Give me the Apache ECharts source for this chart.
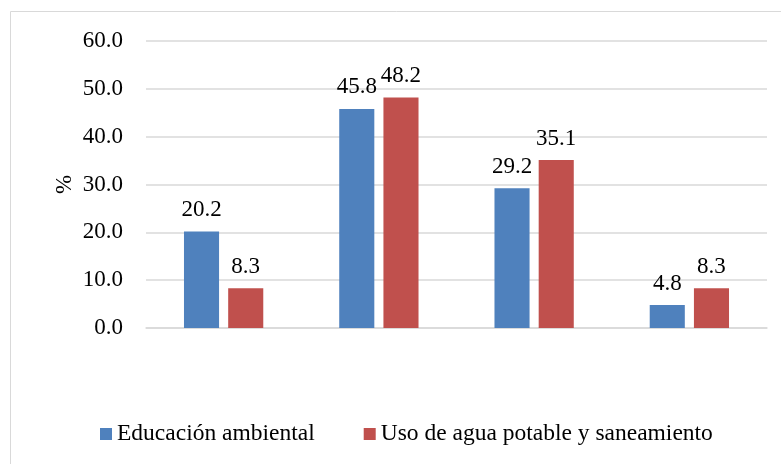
<!DOCTYPE html>
<html>
<head>
<meta charset="utf-8">
<script src="https://cdn.jsdelivr.net/npm/echarts@6/dist/echarts.min.js"></script>
<style>
  html, body { margin: 0; padding: 0; background: #fff; }
  #chart { width: 781px; height: 464px; }
</style>
</head>
<body>
<div id="chart"></div>
<script>
// Four groups, no category captions shown on the axis
const categories = ['', ' ', '  ', '   '];
const educacion = [20.2, 45.8, 29.2, 4.8];
const usoAgua = [8.3, 48.2, 35.1, 8.3];
const seriesNames = ['Educación ambiental', 'Uso de agua potable y saneamiento'];

const font = '"Liberation Serif", "Times New Roman", serif';
const chart = echarts.init(document.getElementById('chart'));

const labelStyle = {
  show: true,
  position: 'top',
  distance: 10,
  fontFamily: font,
  fontSize: 23,
  color: '#000',
  formatter: p => p.value.toFixed(1)
};

chart.setOption({
  animation: false,
  textStyle: { fontFamily: font },
  graphic: [{
    type: 'rect',
    shape: { x: 10.5, y: 11.5, width: 800, height: 500 },
    style: { fill: 'none', stroke: '#d9d9d9', lineWidth: 1 },
    silent: true
  }],
  legend: {
    bottom: 13,
    left: 95,
    itemWidth: 12,
    itemHeight: 12,
    itemGap: 49,
    icon: 'rect',
    textStyle: { fontFamily: font, fontSize: 23.5, color: '#000' },
    data: seriesNames
  },
  grid: { left: 146, right: 14, top: 41, bottom: 136, containLabel: false },
  xAxis: {
    type: 'category',
    data: categories,
    axisLine: { lineStyle: { color: '#d9d9d9', width: 1.5 } },
    axisTick: { show: false },
    axisLabel: { show: false }
  },
  yAxis: {
    type: 'value',
    min: 0,
    max: 60,
    interval: 10,
    name: '%',
    nameLocation: 'middle',
    nameGap: 70,
    nameMoveOverlap: false,
    nameRotate: 90,
    nameTextStyle: { fontFamily: font, fontSize: 23, color: '#000' },
    axisLine: { show: false },
    axisTick: { show: false },
    axisLabel: {
      margin: 23,
      fontFamily: font,
      fontSize: 23,
      color: '#000',
      formatter: v => v.toFixed(1)
    },
    splitLine: { lineStyle: { color: '#d9d9d9', width: 1.5 } }
  },
  series: [
    {
      name: seriesNames[0],
      type: 'bar',
      data: educacion,
      barWidth: '22.6%',
      barGap: '26%',
      itemStyle: { color: '#4F81BD' },
      label: labelStyle
    },
    {
      name: seriesNames[1],
      type: 'bar',
      data: usoAgua,
      barWidth: '22.6%',
      itemStyle: { color: '#C0504D' },
      label: labelStyle
    }
  ]
});
</script>
</body>
</html>
